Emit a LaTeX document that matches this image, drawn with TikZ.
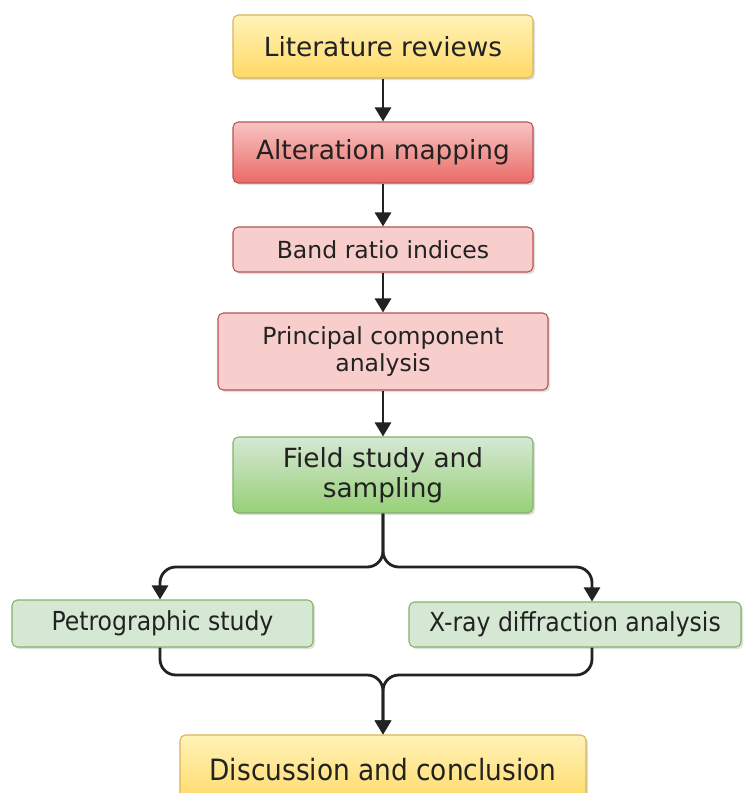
\documentclass[tikz,border=0pt]{standalone}
\usepackage{fontspec}
\setmainfont{DejaVu Sans}
\newfontfamily\condfont{DejaVu Sans Condensed}
\usepackage{tikz}
\usetikzlibrary{arrows.meta, shadows}

\definecolor{yellowtop}{HTML}{FFF3B8}
\definecolor{yellowbot}{HTML}{FFD966}
\definecolor{yellowline}{HTML}{D6B656}
\definecolor{redtop}{HTML}{F8C4C2}
\definecolor{redbot}{HTML}{EA6B66}
\definecolor{redline}{HTML}{B85450}
\definecolor{pinkfill}{HTML}{F8CECC}
\definecolor{greentop}{HTML}{D5E8D4}
\definecolor{greenbot}{HTML}{97D077}
\definecolor{greenline}{HTML}{82B366}
\definecolor{textdark}{HTML}{222222}

\tikzset{
  stage/.style={rectangle, rounded corners=3pt, draw, line width=0.6pt, align=center, inner sep=0pt, text=textdark,
    drop shadow={opacity=0.25, shadow xshift=1.2pt, shadow yshift=-1.2pt}},
  yellowbox/.style={stage, draw=yellowline, top color=yellowtop, bottom color=yellowbot},
  redbox/.style={stage, draw=redline, top color=redtop, bottom color=redbot},
  pinkbox/.style={stage, draw=redline, fill=pinkfill},
  greenbox/.style={stage, draw=greenline, top color=greentop, bottom color=greenbot},
  lightgreenbox/.style={stage, draw=greenline, fill=greentop},
  bigtext/.style={font=\fontsize{15}{17}\selectfont},
  midtext/.style={font=\fontsize{13.4}{15.5}\selectfont},
  condtext/.style={font=\condfont\fontsize{14.9}{17}\selectfont},
  flow/.style={line width=1.6pt, draw=textdark, rounded corners=9pt, -{Triangle[width=0.32cm, length=0.28cm]}}
}

\begin{document}
\begin{tikzpicture}

\useasboundingbox[fill=white] (0, 0) rectangle (14.88, -15.86);

\node[yellowbox, bigtext, minimum width=6cm, minimum height=1.26cm] (lit) at (7.66, -0.93) {Literature reviews};
\node[redbox, bigtext, minimum width=6cm, minimum height=1.22cm] (alt) at (7.66, -3.05) {Alteration mapping};
\node[pinkbox, midtext, minimum width=6cm, minimum height=0.9cm] (band) at (7.66, -4.99) {Band ratio indices};
\node[pinkbox, midtext, minimum width=6.6cm, minimum height=1.54cm] (pca) at (7.66, -7.03) {Principal component\\analysis};
\node[greenbox, bigtext, minimum width=6cm, minimum height=1.52cm] (field) at (7.66, -9.5) {Field study and\\sampling};
\node[lightgreenbox, condtext, minimum width=6.02cm, minimum height=0.94cm] (petro) at (3.25, -12.47) {Petrographic study};
\node[lightgreenbox, condtext, minimum width=6.64cm, minimum height=0.9cm] (xray) at (11.5, -12.49) {X-ray diffraction analysis};
\node[yellowbox, condtext, font=\condfont\fontsize{16.7}{19}\selectfont, minimum width=8.12cm, minimum height=1.4cm] (disc) at (7.66, -15.4) {Discussion and conclusion};

\coordinate (split) at (7.66, -11.34);
\coordinate (join) at (7.66, -13.5);

\draw[flow] (lit) -- (alt);
\draw[flow] (alt) -- (band);
\draw[flow] (band) -- (pca);
\draw[flow] (pca) -- (field);
\draw[flow] (field.south) -- (split) -| ([xshift=-0.05cm]petro.north);
\draw[flow] (field.south) -- (split) -| ([xshift=0.34cm]xray.north);
\draw[flow] ([xshift=-0.05cm]petro.south) |- (join) -- (disc.north);
\draw[flow] ([xshift=0.34cm]xray.south) |- (join) -- (disc.north);

\end{tikzpicture}
\end{document}
